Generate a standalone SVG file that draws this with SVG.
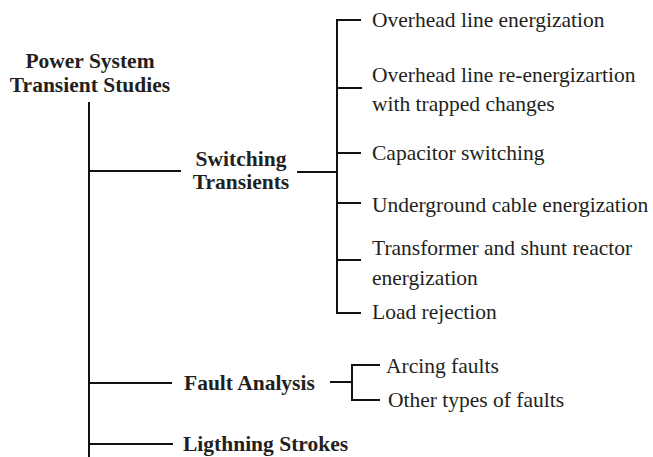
<svg xmlns="http://www.w3.org/2000/svg" width="653" height="457" viewBox="0 0 653 457">
<style>
.b{font-family:"Liberation Serif","Times New Roman",serif;font-weight:bold;font-size:21.5px;fill:#231f20}
.r{font-family:"Liberation Serif","Times New Roman",serif;font-size:21.5px;fill:#231f20}
.c{text-anchor:middle}
.ln{stroke:#111;stroke-width:2;fill:none}
</style>
<rect width="653" height="457" fill="#fff"/>
<g id="connectors">
<path class="ln" d="M89 102V457"/>
<path class="ln" d="M89 171H181"/>
<path class="ln" d="M297 172H337"/>
<path class="ln" d="M361 20H337V313H361"/>
<path class="ln" d="M337 88H362M337 153H361M337 203H361M337 260H361"/>
<path class="ln" d="M89 383H172"/>
<path class="ln" d="M330 382H352"/>
<path class="ln" d="M380 365H352V400H380"/>
<path class="ln" d="M89 444H173"/>
</g>
<g id="root"><text class="b c" x="90" y="68">Power System</text><text class="b c" x="90" y="92">Transient Studies</text></g>
<g id="switching"><text class="b c" x="241" y="166">Switching</text><text class="b c" x="241" y="189">Transients</text></g>
<g id="ohl"><text class="r" x="372" y="27">Overhead line energization</text></g>
<g id="ohlre"><text class="r" x="372" y="82">Overhead line re-energizartion</text><text class="r" x="372" y="111">with trapped changes</text></g>
<g id="cap"><text class="r" x="372" y="160">Capacitor switching</text></g>
<g id="cable"><text class="r" x="372" y="212">Underground cable energization</text></g>
<g id="trafo"><text class="r" x="372" y="255">Transformer and shunt reactor</text><text class="r" x="372" y="285">energization</text></g>
<g id="load"><text class="r" x="372" y="319">Load rejection</text></g>
<g id="fault"><text class="b" x="184" y="390">Fault Analysis</text></g>
<g id="arc"><text class="r" x="386" y="373">Arcing faults</text></g>
<g id="other"><text class="r" x="388" y="407">Other types of faults</text></g>
<g id="lightning"><text class="b" x="183" y="451">Ligthning Strokes</text></g>
</svg>
